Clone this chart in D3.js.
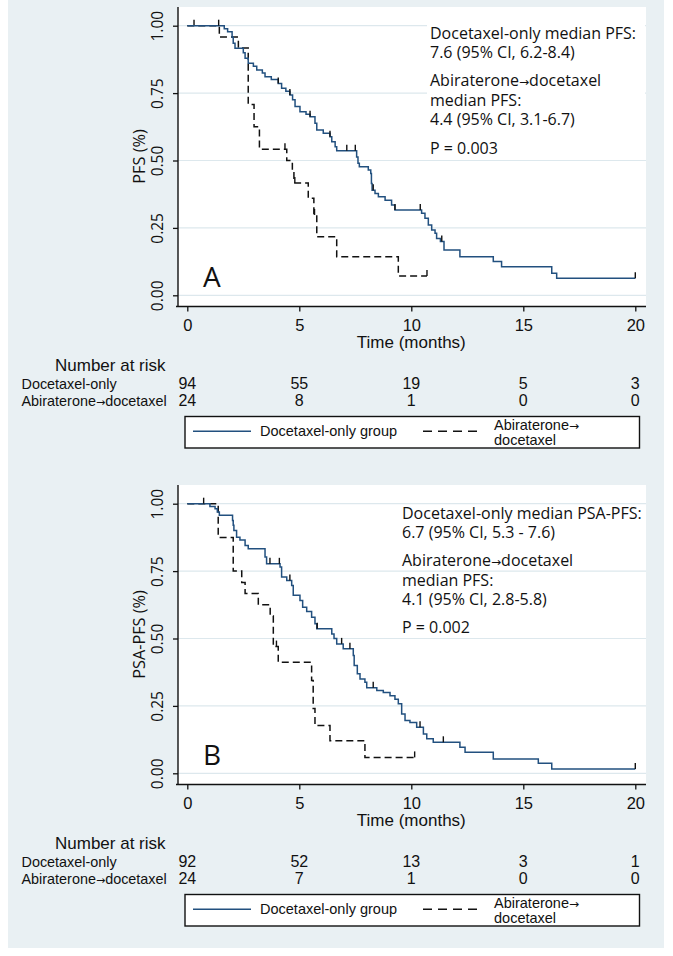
<!DOCTYPE html>
<html><head><meta charset="utf-8">
<script src="https://cdn.jsdelivr.net/npm/d3@7"></script>
<style>body{margin:0;background:#fff} svg{display:block}</style>
</head><body>
<svg id="c" width="673" height="956"></svg>
<script>
// ---------- data ----------
const timeTicks = [0, 5, 10, 15, 20];
const survTicks = [0, 0.25, 0.5, 0.75, 1];
const groupNames = ["Docetaxel-only", "Abiraterone\u2192docetaxel"];
const legendSolid = "Docetaxel-only group";
const legendDashed = ["Abiraterone\u2192", "docetaxel"];

// Panel A (PFS)
const pfsDocT = [0,1.65,1.8,2.0,2.05,2.13,2.5,2.58,2.72,2.95,3.10,3.35,3.47,3.75,4.06,4.21,4.40,4.58,4.70,4.81,5.03,5.30,5.48,5.70,5.78,6.07,6.37,6.45,6.6,6.67,7.56,7.62,7.68,8.08,8.19,8.22,8.25,8.38,8.53,8.83,9.12,9.27,10.46,10.61,10.76,10.91,11.06,11.13,11.30,11.46,12.17,13.66,14.03,16.27,16.49];
const pfsDocS = [1,0.989,0.978,0.957,0.935,0.916,0.90,0.879,0.861,0.850,0.836,0.825,0.811,0.800,0.786,0.768,0.757,0.743,0.725,0.700,0.681,0.672,0.662,0.638,0.613,0.601,0.588,0.570,0.551,0.536,0.513,0.49,0.477,0.465,0.452,0.415,0.39,0.378,0.366,0.353,0.335,0.316,0.304,0.286,0.261,0.242,0.230,0.211,0.20,0.168,0.143,0.125,0.106,0.082,0.063];
const pfsDocCens = [1.4, 4.06, 4.58, 5.48, 6.37, 7.12, 7.5, 8.3, 9.27, 10.4, 11.36, 20];
const pfsDocEnd = 20;
const pfsAbiT = [0,1.43,2.28,2.72,2.98,3.22,4.44,4.69,4.76,5.4,5.65,5.78,6.67,9.42];
const pfsAbiS = [1,0.958,0.917,0.708,0.625,0.542,0.50,0.458,0.417,0.36,0.298,0.217,0.143,0.072];
const pfsAbiCens = [0.3, 4.36, 4.8, 5.68, 10.7];
const pfsAbiEnd = 10.7;
const riskA_doc = [94, 55, 19, 5, 3];
const riskA_abi = [24, 8, 1, 0, 0];
const notesA = ["Docetaxel-only median PFS:", "7.6 (95% CI, 6.2-8.4)", "Abiraterone\u2192docetaxel", "median PFS:", "4.4 (95% CI, 3.1-6.7)", "P = 0.003"];

// Panel B (PSA-PFS)
const psaDocT = [0,1.01,1.24,1.34,1.43,2.02,2.05,2.08,2.2,2.35,2.58,2.72,3.47,3.54,4.14,4.21,4.44,4.66,4.73,5.03,5.15,5.33,5.55,5.70,5.78,6.45,6.55,6.67,6.96,7.41,7.45,7.59,7.71,7.93,8.01,8.46,8.75,9.05,9.27,9.42,9.57,9.72,9.94,10.24,10.54,10.69,10.98,12.17,12.4,13.66,15.67,16.27];
const psaDocS = [1,0.99,0.981,0.969,0.957,0.938,0.92,0.901,0.876,0.865,0.845,0.833,0.802,0.777,0.765,0.728,0.715,0.697,0.66,0.641,0.616,0.60,0.579,0.555,0.536,0.517,0.50,0.48,0.462,0.437,0.40,0.369,0.35,0.338,0.317,0.307,0.30,0.288,0.275,0.258,0.22,0.196,0.188,0.171,0.146,0.128,0.115,0.097,0.078,0.053,0.037,0.016];
const psaDocCens = [0.73, 3.69, 4.11, 4.58, 5.8, 6.89, 7.26, 8.3, 10.39, 11.43, 20];
const psaDocEnd = 20;
const psaAbiT = [0,1.38,2.05,2.43,2.58,3.17,3.7,3.84,4.06,5.55,5.62,5.70,6.37,7.93];
const psaAbiS = [1,0.875,0.75,0.708,0.667,0.625,0.583,0.47,0.412,0.344,0.24,0.177,0.121,0.059];
const psaAbiCens = [3.98, 10.15];
const psaAbiEnd = 10.15;
const riskB_doc = [92, 52, 13, 3, 1];
const riskB_abi = [24, 7, 1, 0, 0];
const notesB = ["Docetaxel-only median PSA-PFS:", "6.7 (95% CI, 5.3 - 7.6)", "Abiraterone\u2192docetaxel", "median PFS:", "4.1 (95% CI, 2.8-5.8)", "P = 0.002"];

// ---------- layout ----------
const panels = [
  {oy: 0, ytitle: "PFS (%)", letter: "A",
   doc: {T: pfsDocT, S: pfsDocS, cens: pfsDocCens, end: pfsDocEnd},
   abi: {T: pfsAbiT, S: pfsAbiS, cens: pfsAbiCens, end: pfsAbiEnd},
   risk: [riskA_doc, riskA_abi], notes: notesA, noteX: 430,
   noteY: [39.3, 58, 86, 106, 124.5, 154], box: true},
  {oy: 478, ytitle: "PSA-PFS (%)", letter: "B",
   doc: {T: psaDocT, S: psaDocS, cens: psaDocCens, end: psaDocEnd},
   abi: {T: psaAbiT, S: psaAbiS, cens: psaAbiCens, end: psaAbiEnd},
   risk: [riskB_doc, riskB_abi], notes: notesB, noteX: 402,
   noteY: [41.3, 60.3, 88, 108, 127, 155.3], box: false}
];

const BG = "#e9f0f3", GRID = "#dde8ed", NAVY = "#22507f";
const F1 = "'Open Sans', 'DejaVu Sans', sans-serif";
const F2 = "'Liberation Sans', Arial, sans-serif";

const svg = d3.select("#c");
svg.append("rect").attr("x", 8).attr("y", 0).attr("width", 656).attr("height", 948).attr("fill", BG);

function survAt(T, S, t) {
  const i = d3.bisectRight(T, t) - 1;
  return S[Math.max(0, i)];
}

function addArrowText(sel, str, arrowSize) {
  const parts = str.split("\u2192");
  sel.append("tspan").text(parts[0]);
  if (parts.length > 1) {
    sel.append("tspan").attr("font-size", arrowSize).attr("font-family", "'DejaVu Sans', sans-serif").text("\u2192");
    if (parts[1]) sel.append("tspan").text(parts[1]);
  }
}

panels.forEach(p => {
  const oy = p.oy;
  const g = svg.append("g");
  const x = d3.scaleLinear().domain([0, 20]).range([187.3, 635.3]);
  const y = d3.scaleLinear().domain([0, 1]).range([oy + 295.3, oy + 25.7]);
  const L = 178, R = 646, T = oy + 7, B = oy + 306.5;

  g.append("rect").attr("x", L).attr("y", T).attr("width", R - L).attr("height", B - T).attr("fill", "#fff");
  g.selectAll(".grid").data(survTicks).join("line")
    .attr("x1", L).attr("x2", R).attr("y1", d => y(d)).attr("y2", d => y(d))
    .attr("stroke", GRID).attr("stroke-width", 1.2);
  if (p.box) g.append("rect").attr("x", 427).attr("y", oy + 14).attr("width", R - 428).attr("height", 144).attr("fill", "#fff");

  // annotation text
  p.notes.forEach((s, i) => {
    const t = g.append("text").attr("x", p.noteX).attr("y", oy + p.noteY[i])
      .attr("font-family", F1).attr("font-size", 16).attr("fill", "#111");
    addArrowText(t, s, 12);
  });

  // curves
  const line = d3.line().x(d => x(d[0])).y(d => y(d[1])).curve(d3.curveStepAfter);
  const drawCurve = (c, color, dash) => {
    const pts = c.T.map((t, i) => [t, c.S[i]]);
    pts.push([c.end, c.S[c.S.length - 1]]);
    g.append("path").attr("d", line(pts)).attr("fill", "none").attr("stroke", color)
      .attr("stroke-width", 1.5).attr("stroke-dasharray", dash);
    g.selectAll(null).data(c.cens).join("line")
      .attr("x1", d => x(d)).attr("x2", d => x(d))
      .attr("y1", d => y(survAt(c.T, c.S, d))).attr("y2", d => y(survAt(c.T, c.S, d)) - 6)
      .attr("stroke", "#111").attr("stroke-width", 1.4);
  };
  drawCurve(p.abi, "#111", "7,4");
  drawCurve(p.doc, NAVY, null);

  // panel letter
  g.append("text").attr("x", 203).attr("y", oy + 287).attr("font-family", F1)
    .attr("font-size", 28).attr("fill", "#111").text(p.letter);

  // y axis
  const ya = g.append("g").attr("transform", `translate(${L},0)`)
    .call(d3.axisLeft(y).tickValues(survTicks).tickFormat(d3.format(".2f")).tickSize(5).tickSizeOuter(0));
  ya.select(".domain").remove();
  ya.selectAll("line").attr("stroke", "#111").attr("stroke-width", 1.3);
  ya.selectAll("text").attr("transform", "rotate(-90)").attr("x", 0).attr("y", -15).attr("dy", null)
    .attr("text-anchor", "middle").attr("font-family", F1).attr("font-size", 15.5).attr("fill", "#111");
  g.append("line").attr("x1", L).attr("x2", L).attr("y1", T).attr("y2", B).attr("stroke", "#111").attr("stroke-width", 1.4);

  g.append("text").attr("transform", `translate(145,${oy + 156.5}) rotate(-90)`)
    .attr("text-anchor", "middle").attr("font-family", F1).attr("font-size", 16.3).attr("fill", "#111").text(p.ytitle);

  // x axis
  const xa = g.append("g").attr("transform", `translate(0,${B})`)
    .call(d3.axisBottom(x).tickValues(timeTicks).tickSize(5).tickSizeOuter(0));
  xa.select(".domain").remove();
  xa.selectAll("line").attr("stroke", "#111").attr("stroke-width", 1.3);
  xa.selectAll("text").attr("y", 24.5).attr("dy", null).attr("font-family", F2).attr("font-size", 16.5).attr("fill", "#111");
  g.append("line").attr("x1", 176).attr("x2", R).attr("y1", B).attr("y2", B).attr("stroke", "#111").attr("stroke-width", 1.4);
  g.append("text").attr("x", x(10)).attr("y", oy + 347.5).attr("text-anchor", "middle")
    .attr("font-family", F2).attr("font-size", 17).attr("fill", "#111").text("Time (months)");

  // number at risk
  g.append("text").attr("x", 55).attr("y", oy + 371).attr("font-family", F2).attr("font-size", 17).attr("fill", "#111").text("Number at risk");
  const rowY = [oy + 388.5, oy + 406];
  groupNames.forEach((nm, i) => {
    const t = g.append("text").attr("x", 21.5).attr("y", rowY[i]).attr("font-family", F2).attr("font-size", 14.4).attr("fill", "#111");
    addArrowText(t, nm, 11);
    g.selectAll(null).data(p.risk[i]).join("text")
      .attr("x", (d, j) => x(timeTicks[j])).attr("y", rowY[i]).attr("text-anchor", "middle")
      .attr("font-family", F2).attr("font-size", 16).attr("fill", "#111").text(d => d);
  });

  // legend
  const lg = g.append("g");
  lg.append("rect").attr("x", 185).attr("y", oy + 416.5).attr("width", 454.5).attr("height", 31.5)
    .attr("fill", "#fff").attr("stroke", "#111").attr("stroke-width", 1.4);
  lg.append("line").attr("x1", 193).attr("x2", 251).attr("y1", oy + 431.3).attr("y2", oy + 431.3).attr("stroke", NAVY).attr("stroke-width", 1.5);
  lg.append("text").attr("x", 260).attr("y", oy + 436).attr("font-family", F2).attr("font-size", 14.5).attr("fill", "#111").text(legendSolid);
  lg.append("line").attr("x1", 423).attr("x2", 483).attr("y1", oy + 431.3).attr("y2", oy + 431.3).attr("stroke", "#111").attr("stroke-width", 1.5).attr("stroke-dasharray", "9,6");
  const lt = lg.append("text").attr("x", 494).attr("y", oy + 430).attr("font-family", F2).attr("font-size", 14.5).attr("fill", "#111");
  addArrowText(lt, legendDashed[0], 12);
  lg.append("text").attr("x", 494).attr("y", oy + 445).attr("font-family", F2).attr("font-size", 14.5).attr("fill", "#111").text(legendDashed[1]);
});
</script>
</body></html>
